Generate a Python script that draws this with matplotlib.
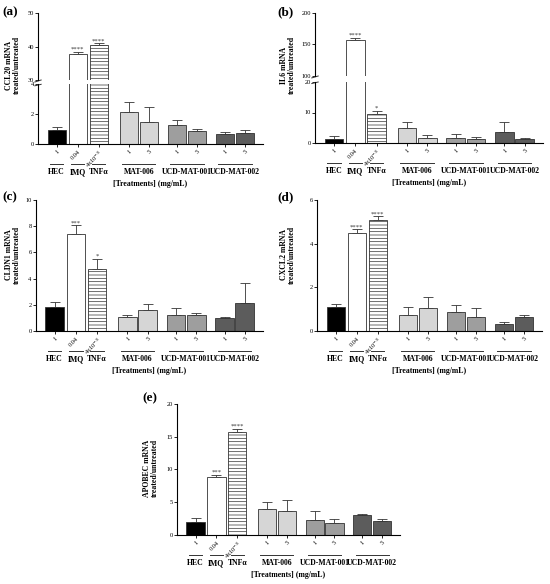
import numpy as np
import matplotlib
matplotlib.use("Agg")
import matplotlib.pyplot as plt
import matplotlib.transforms as mtransforms

plt.rcParams['font.family'] = ['Liberation Serif', 'DejaVu Serif']
plt.rcParams['hatch.linewidth'] = 0.5
plt.rcParams['hatch.color'] = '#555555'

# categories
dose_labels = ["1", "0.04", "4x10$^{-3}$", "1", "5", "1", "5", "1", "5"]
groups = ["HEC", "IMQ", "TNF\u03b1", "MAT-006", "UCD-MAT-001", "UCD-MAT-002"]
group_members = [[0], [1], [2], [3, 4], [5, 6], [7, 8]]

# values (mean, upper error)
ccl20 = [0.94, 37.8, 40.6, 2.17, 1.47, 1.3, 0.87, 0.65, 0.74]
ccl20_err = [0.22, 0.6, 0.4, 0.63, 1.03, 0.3, 0.11, 0.13, 0.18]
ccl20_sig = ["", "****", "****", "", "", "", "", "", ""]

il6 = [1.3, 156.8, 9.5, 4.8, 1.6, 1.8, 1.3, 3.7, 1.3]
il6_err = [1.1, 3.6, 1.1, 2.0, 1.0, 1.1, 0.6, 3.3, 0.3]
il6_sig = ["", "****", "*", "", "", "", "", "", ""]

cldn1 = [1.86, 7.38, 4.71, 1.04, 1.58, 1.22, 1.22, 0.97, 2.14]
cldn1_err = [0.33, 0.69, 0.79, 0.18, 0.51, 0.56, 0.15, 0.1, 1.5]
cldn1_sig = ["", "***", "*", "", "", "", "", "", ""]

cxcl2 = [1.08, 4.49, 5.08, 0.75, 1.05, 0.86, 0.66, 0.34, 0.63]
cxcl2_err = [0.17, 0.17, 0.17, 0.33, 0.5, 0.31, 0.39, 0.06, 0.11]
cxcl2_sig = ["", "****", "****", "", "", "", "", "", ""]

apobec = [1.93, 8.78, 15.68, 4.0, 3.65, 2.33, 1.78, 3.1, 2.13]
apobec_err = [0.71, 0.41, 0.52, 1.0, 1.73, 1.37, 0.61, 0.1, 0.31]
apobec_sig = ["", "***", "****", "", "", "", "", "", ""]

pos = np.array([0, 1.05, 2.1, 3.6, 4.6, 6.0, 7.0, 8.4, 9.4])
bar_colors = ["black", "white", "white", "#d6d6d6", "#d6d6d6",
              "#9e9e9e", "#9e9e9e", "#5c5c5c", "#5c5c5c"]
hatches = [None, None, "-----", None, None, None, None, None, None]
edge = "#333333"
fs_tick = 4.6
fs_lab = 5.6


def draw_bars(ax, vals, errs, sigs, ylim):
    ax.set_ylim(*ylim)
    for i in range(len(vals)):
        ax.bar(pos[i], vals[i], width=0.92, color=bar_colors[i], edgecolor=edge,
               linewidth=0.6, hatch=hatches[i], zorder=2)
    ax.errorbar(pos, vals, yerr=[np.zeros(len(vals)), errs], fmt="none",
                ecolor=edge, elinewidth=0.6, capsize=3.4, capthick=0.6, zorder=1)
    for i, s in enumerate(sigs):
        top = vals[i] + errs[i]
        if s and ylim[0] <= top <= ylim[1]:
            ax.text(pos[i], top, s, ha="center", va="bottom",
                    fontsize=4.8, color="#333333")


def style(ax, ticks, bottom=True):
    ax.set_xlim(-0.935, 10.3)
    ax.spines["top"].set_visible(False)
    ax.spines["right"].set_visible(False)
    ax.spines["left"].set_linewidth(0.8)
    ax.spines["bottom"].set_linewidth(0.8)
    ax.set_yticks(ticks)
    ax.tick_params(axis="y", labelsize=fs_tick, length=2, width=0.6, pad=1)
    if bottom:
        ax.set_xticks(pos)
        ax.set_xticklabels(dose_labels, rotation=45, fontsize=fs_tick, ha="right",
                           rotation_mode="anchor")
        ax.tick_params(axis="x", length=2, width=0.6, pad=1.5)
        fig = ax.figure
        trans = mtransforms.blended_transform_factory(ax.transData, ax.transAxes)
        for g, members in zip(groups, group_members):
            x0 = pos[members[0]] - 0.33
            x1 = pos[members[-1]] + 0.33
            off = mtransforms.ScaledTranslation(0, -14.4 / 72, fig.dpi_scale_trans)
            ax.plot([x0, x1], [0, 0], transform=trans + off, color="#333333",
                    lw=0.7, clip_on=False)
            off2 = mtransforms.ScaledTranslation(0, -21.6 / 72, fig.dpi_scale_trans)
            ax.text((x0 + x1) / 2, 0, g, transform=trans + off2, ha="center",
                    va="baseline", fontsize=fs_lab, fontweight="bold")
        off3 = mtransforms.ScaledTranslation(0, -30.5 / 72, fig.dpi_scale_trans)
        ax.text(0.5, 0, "[Treatments] (mg/mL)", transform=ax.transAxes + off3,
                ha="center", va="baseline", fontsize=fs_lab, fontweight="bold")
    else:
        ax.set_xticks([])
        ax.spines["bottom"].set_visible(False)


def break_marks(ax_low, ax_high):
    kw = dict(color="#333333", lw=0.7, clip_on=False)
    ax_high.plot([-0.014, 0.014], [-0.03, 0.0], transform=ax_high.transAxes, **kw)
    ax_low.plot([-0.014, 0.014], [0.975, 1.0], transform=ax_low.transAxes, **kw)


fig = plt.figure(figsize=(5.5, 5.84), dpi=100)
W, H = 550.0, 584.0


def box(l, r, top, bot):
    return [l / W, 1 - bot / H, (r - l) / W, (bot - top) / H]


def ylab(x, y, text):
    fig.text(x / W, 1 - y / H, text, rotation=90, ha="center", va="center",
             fontsize=fs_lab, fontweight="bold", linespacing=1.1)


def panel(x, y, text):
    fig.text(x / W, 1 - y / H, text, fontsize=9.5, fontweight="bold", va="center")


# (a) CCL20 broken axis
a_hi = fig.add_axes(box(38, 263, 13.3, 80))
a_lo = fig.add_axes(box(38, 263, 84.3, 144))
draw_bars(a_hi, ccl20, ccl20_err, ccl20_sig, (30, 50))
draw_bars(a_lo, ccl20, ccl20_err, ccl20_sig, (0, 4))
style(a_hi, [30, 40, 50], bottom=False)
style(a_lo, [0, 2, 4])
break_marks(a_lo, a_hi)
ylab(13, 65, "CCL20 mRNA\ntreated/untreated")
panel(2, 12, "(a)")

# (b) IL6 broken axis
b_hi = fig.add_axes(box(315, 543, 12.7, 76))
b_lo = fig.add_axes(box(315, 543, 82, 143))
draw_bars(b_hi, il6, il6_err, il6_sig, (100, 200))
draw_bars(b_lo, il6, il6_err, il6_sig, (0, 20))
style(b_hi, [100, 150, 200], bottom=False)
style(b_lo, [0, 10, 20])
break_marks(b_lo, b_hi)
ylab(288, 65, "IL6 mRNA\ntreated/untreated")
panel(277, 12, "(b)")

# (c) CLDN1
c_ax = fig.add_axes(box(35.7, 263, 200, 331))
draw_bars(c_ax, cldn1, cldn1_err, cldn1_sig, (0, 10))
style(c_ax, [0, 2, 4, 6, 8, 10])
ylab(13, 255, "CLDN1 mRNA\ntreated/untreated")
panel(2, 197, "(c)")

# (d) CXCL2
d_ax = fig.add_axes(box(317, 542, 200, 331))
draw_bars(d_ax, cxcl2, cxcl2_err, cxcl2_sig, (0, 6))
style(d_ax, [0, 2, 4, 6])
ylab(288, 255, "CXCL2 mRNA\ntreated/untreated")
panel(277, 197, "(d)")

# (e) APOBEC
e_ax = fig.add_axes(box(177, 400, 403.7, 535))
draw_bars(e_ax, apobec, apobec_err, apobec_sig, (0, 20))
style(e_ax, [0, 5, 10, 15, 20])
ylab(151, 468, "APOBEC mRNA\ntreated/untreated")
panel(142, 398, "(e)")

fig.savefig("out.png", dpi=100)
